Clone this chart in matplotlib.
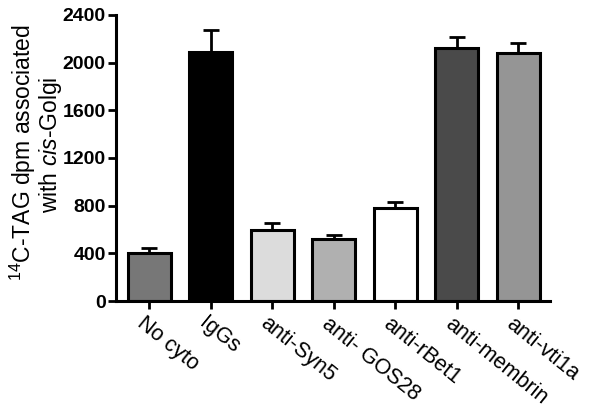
import matplotlib
matplotlib.use("Agg")
import matplotlib.pyplot as plt

plt.rcParams["font.family"] = ["Liberation Sans", "DejaVu Sans"]
plt.rcParams["mathtext.fontset"] = "custom"
plt.rcParams["mathtext.rm"] = "Liberation Sans"
plt.rcParams["mathtext.it"] = "Liberation Sans:italic"

labels = ["No cyto", "IgGs", "anti-Syn5", "anti- GOS28", "anti-rBet1", "anti-membrin", "anti-vti1a"]
values = [405, 2090, 594, 522, 782, 2121, 2079]
errors = [42, 182, 62, 34, 47, 97, 89]
colors = ["#777777", "#000000", "#dcdcdc", "#b0b0b0", "#ffffff", "#4a4a4a", "#959595"]
ylabel_lines = ["$^{14}$C-TAG dpm associated", "with $\\mathit{cis}$-Golgi"]

fig = plt.figure(figsize=(6.02, 4.13), dpi=100)
ax = fig.add_axes([0.193, 0.271, 0.721, 0.693])

x = list(range(len(labels)))
ax.bar(x, values, width=0.7, color=colors, edgecolor="black", linewidth=2.2, zorder=2)
ax.errorbar(x, values, yerr=[[0] * len(errors), errors], fmt="none", ecolor="black",
            elinewidth=2.0, capsize=6, capthick=2.0, zorder=1)

ax.set_xlim(-0.537, 6.52)
ax.set_ylim(0, 2400)
ax.set_yticks(range(0, 2401, 400))
ax.set_xticks(x)
ax.set_xticklabels([])
for t in ax.get_yticklabels():
    t.set_fontsize(14)
    t.set_fontweight("bold")

# rotated category labels, placed by hand so they start just left of each tick
for i, lab in enumerate(labels):
    ax.annotate(lab, xy=(i, 0), xycoords=("data", "axes fraction"),
                xytext=(-3, -12), textcoords="offset pixels",
                rotation=-39, rotation_mode="anchor", ha="left", va="top",
                fontsize=15.5, annotation_clip=False)

for s in ["top", "right"]:
    ax.spines[s].set_visible(False)
for s in ["left", "bottom"]:
    ax.spines[s].set_linewidth(2.2)
ax.tick_params(axis="both", length=6, width=2.0, direction="out")
ax.tick_params(axis="y", pad=1.5)

# two-line y label, drawn as separate lines to keep the tight spacing
fig.text(31 / 602, 1 - 152 / 413, ylabel_lines[0], rotation=90, rotation_mode="anchor",
         ha="center", va="baseline", fontsize=16.5)
fig.text(57 / 602, 1 - 145 / 413, ylabel_lines[1], rotation=90, rotation_mode="anchor",
         ha="center", va="baseline", fontsize=16.5)

fig.savefig("out.png", dpi=100)
